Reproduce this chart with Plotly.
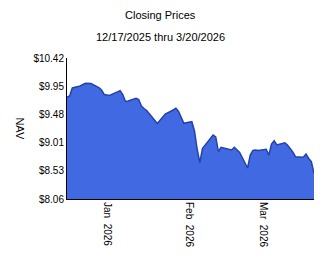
import plotly.graph_objects as go

dates = [
    "2025-12-17", "2025-12-18", "2025-12-19", "2025-12-22", "2025-12-23", "2025-12-24",
    "2025-12-26", "2025-12-29", "2025-12-30", "2025-12-31",
    "2026-01-02", "2026-01-05", "2026-01-06", "2026-01-07", "2026-01-08", "2026-01-09",
    "2026-01-12", "2026-01-13", "2026-01-14", "2026-01-15", "2026-01-16",
    "2026-01-20", "2026-01-21", "2026-01-22", "2026-01-23",
    "2026-01-26", "2026-01-27", "2026-01-28", "2026-01-29", "2026-01-30",
    "2026-02-02", "2026-02-03", "2026-02-04", "2026-02-05", "2026-02-06",
    "2026-02-09", "2026-02-10", "2026-02-11", "2026-02-12", "2026-02-13",
    "2026-02-17", "2026-02-18", "2026-02-19", "2026-02-20",
    "2026-02-23", "2026-02-24", "2026-02-25", "2026-02-26", "2026-02-27",
    "2026-03-02", "2026-03-03", "2026-03-04", "2026-03-05", "2026-03-06",
    "2026-03-09", "2026-03-10", "2026-03-11", "2026-03-12", "2026-03-13",
    "2026-03-16", "2026-03-17", "2026-03-18", "2026-03-19", "2026-03-20",
]

nav = [
    9.767, 9.784, 9.918, 9.951, 9.976, 9.997,
    9.993, 9.926, 9.884, 9.809,
    9.792, 9.859, 9.873, 9.809, 9.692, 9.700,
    9.745, 9.725, 9.617, 9.575, 9.541,
    9.324, 9.374, 9.432, 9.483,
    9.550, 9.578, 9.525, 9.416, 9.327,
    9.354, 9.198, 8.897, 8.668, 8.905,
    9.081, 9.131, 9.098, 8.852, 8.925,
    8.880, 8.925, 8.888, 8.838,
    8.579, 8.796, 8.872, 8.880, 8.872,
    8.892, 8.796, 8.981, 9.036, 8.964,
    9.002, 8.964, 8.905, 8.847, 8.768,
    8.758, 8.813, 8.738, 8.688, 8.490,
]

y_min, y_max = 8.06, 10.42
y_tick_text = ["$8.06", "$8.53", "$9.01", "$9.48", "$9.95", "$10.42"]
y_tick_vals = [y_min + i * (y_max - y_min) / 5 for i in range(6)]

x_tick_vals = ["2026-01-01", "2026-02-01", "2026-03-01"]
x_tick_text = ["Jan  2026", "Feb  2026", "Mar  2026"]

title_text = "Closing Prices"
subtitle_text = "12/17/2025 thru 3/20/2026"
y_title = "NAV"

font_family = "Liberation Sans, Arial, sans-serif"

fig = go.Figure()
fig.add_trace(go.Scatter(
    x=dates, y=nav, mode="lines",
    line=dict(color="#2343A8", width=1.5),
    fill="tozeroy", fillcolor="#4169E1",
    hoverinfo="skip",
))

fig.update_layout(
    width=324, height=267,
    margin=dict(l=67, r=10, t=58, b=68),
    paper_bgcolor="white", plot_bgcolor="white",
    showlegend=False,
    font=dict(family=font_family, size=10, color="black"),
    xaxis=dict(
        range=["2025-12-17", "2026-03-20"],
        tickmode="array", tickvals=x_tick_vals, ticktext=x_tick_text,
        tickangle=90, showgrid=False, zeroline=False,
        showline=True, linecolor="black", linewidth=1,
        ticks="", tickfont=dict(size=10),
    ),
    yaxis=dict(
        range=[y_min, y_max],
        tickmode="array", tickvals=y_tick_vals, ticktext=y_tick_text,
        showgrid=False, zeroline=False,
        showline=True, linecolor="black", linewidth=1,
        ticks="", ticklen=0, tickfont=dict(size=10),
    ),
    annotations=[
        dict(text=title_text, x=0.5, y=15, xref="paper", yref="paper",
             showarrow=False, font=dict(size=11)),
        dict(text=subtitle_text, x=0.5, y=37, xref="paper", yref="paper",
             showarrow=False, font=dict(size=11)),
        dict(text=y_title, textangle=90, x=-0.19, y=0.5, xref="paper", yref="paper",
             xanchor="center", yanchor="middle", showarrow=False, font=dict(size=11)),
    ],
)

# Place title annotations in pixel positions (convert to paper coords)
plot_h = 267 - 58 - 68
def py(px):
    return (267 - 68 - px) / plot_h
fig.layout.annotations[0].y = py(15)
fig.layout.annotations[1].y = py(37)
fig.layout.annotations[0].yanchor = "middle"
fig.layout.annotations[1].yanchor = "middle"
fig.layout.annotations[0].x = (160 - 67) / (324 - 67 - 10)
fig.layout.annotations[1].x = (160 - 67) / (324 - 67 - 10)

fig.write_html("out.html")
